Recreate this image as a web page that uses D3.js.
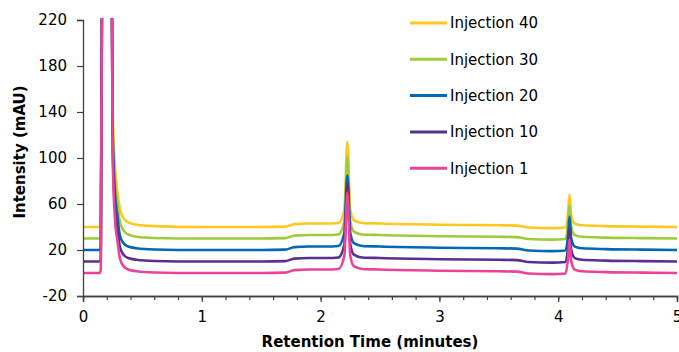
<!DOCTYPE html>
<html><head><meta charset="utf-8">
<script src="https://cdn.jsdelivr.net/npm/d3@7"></script>
<style>html,body{margin:0;padding:0;background:#fff;}svg{display:block;font-family:"DejaVu Sans",Verdana,sans-serif;}</style>
</head><body>
<svg id="chart" width="679" height="352"></svg>
<script>
// Retention time points (minutes), shared by all series
const times = [0,0.14,0.15,0.165,0.2,0.235,0.25,0.27,0.29,0.31,0.34,0.38,0.45,0.6,1.0,1.5,1.7,1.78,1.9,2.05,2.15,2.2,2.225,2.25,2.28,2.35,2.5,3.0,3.5,3.65,3.75,3.95,4.06,4.085,4.095,4.11,4.14,4.2,4.4,4.7,5.0];
const inj1  = [0,0,3,400,800,400,100,45,28,13,6,3,1.5,0.5,0,0,0.3,2.5,3,3,3.5,15,70,15,6,3.5,3,2,1.5,1.2,-0.5,-1,-0.5,15,29,10,3,1.5,0.8,0.3,0];
const inj10 = [10,10,13,400,800,400,110,56,38,23,16,13,11.5,10.5,10,10,10.3,12.5,13,13,13.5,25,78,25,16,13.5,13,12,11.5,11.2,9.5,9,9.5,25,39,20,13,11.5,10.8,10.3,10];
const inj20 = [20,20,23,400,800,400,120,68,49,33,26,23,21.5,20.5,20,20,20.3,22.5,23,23,23.5,35,85,35,26,23.5,23,22,21.5,21.2,19.5,19,19.5,35,49,30,23,21.5,20.8,20.3,20];
const inj30 = [30,30,33,400,800,400,130,80,60,45,37,33.5,31.5,30.5,30,30,30.3,32.5,33,33,33.5,45,101,45,36,33.5,33,32,31.5,31.2,29.5,29,29.5,45,59,40,33,31.5,30.8,30.3,30];
const inj40 = [40,40,43,400,800,400,140,92,70,56,48,44,42,40.8,40,40,40.3,42.5,43,43,43.5,55,114,55,46,43.5,43,42,41.5,41.2,39.5,39,39.5,55,68,50,43,41.5,40.8,40.3,40];

const seriesNames = ["Injection 40","Injection 30","Injection 20","Injection 10","Injection 1"];
const seriesValues = [inj40, inj30, inj20, inj10, inj1];
const seriesColors = ["#FFC81E","#9ECB3B","#0068B4","#583092","#EC4399"];

const xTicks = [0,1,2,3,4,5];
const xMinorTicks = d3.range(0, 5.0001, 0.2);
const yTicks = [-20,20,60,100,140,180,220];

const svg = d3.select("#chart");
const L = 83, R = 677, T = 20, B = 296;
const x = d3.scaleLinear().domain([0,5]).range([L,R]);
const y = d3.scaleLinear().domain([-20,220]).range([B,T]);

svg.append("defs").append("clipPath").attr("id","clip")
  .append("rect").attr("x",L).attr("y",T-2).attr("width",R-L+2).attr("height",B-T+2);

const line = d3.line().x(d=>x(d[0])).y(d=>y(d[1])).curve(d3.curveMonotoneX);
const g = svg.append("g").attr("clip-path","url(#clip)");
seriesValues.forEach((vals,i)=>{
  g.append("path").datum(times.map((t,j)=>[t,vals[j]]))
    .attr("d",line).attr("fill","none").attr("stroke",seriesColors[i])
    .attr("stroke-width",2.6).attr("stroke-linejoin","round");
});

const axisColor = "#404040";
const fmt = d => String(d);
// x axis
const xa = svg.append("g").attr("transform",`translate(0,${B})`);
xa.call(d3.axisBottom(x).tickValues(xMinorTicks).tickSize(4).tickFormat(""));
const xa2 = svg.append("g").attr("transform",`translate(0,${B})`)
  .call(d3.axisBottom(x).tickValues(xTicks).tickSize(6).tickPadding(9).tickFormat(fmt));
[xa,xa2].forEach(a=>{a.select(".domain").attr("stroke",axisColor).attr("stroke-width",1.3);
  a.selectAll(".tick line").attr("stroke",axisColor).attr("stroke-width",1.2);
  a.selectAll("text").attr("font-size",15).attr("fill","#000").attr("font-family","DejaVu Sans");});
// y axis
const ya = svg.append("g").attr("transform",`translate(${L},0)`)
  .call(d3.axisLeft(y).tickValues(yTicks).tickSize(6).tickPadding(10).tickFormat(fmt));
ya.select(".domain").attr("stroke",axisColor).attr("stroke-width",1.3);
ya.selectAll(".tick line").attr("stroke",axisColor).attr("stroke-width",1.2);
ya.selectAll("text").attr("font-size",15).attr("fill","#000").attr("font-family","DejaVu Sans");

// axis titles
svg.append("text").attr("x",370).attr("y",347).attr("text-anchor","middle")
  .attr("font-size",15).attr("font-weight","bold").text("Retention Time (minutes)");
svg.append("text").attr("transform","translate(25,152) rotate(-90)").attr("text-anchor","middle")
  .attr("font-size",15).attr("font-weight","bold").text("Intensity (mAU)");

// legend
const leg = svg.append("g");
seriesNames.forEach((n,i)=>{
  const yy = 23 + i*36.3;
  leg.append("line").attr("x1",410).attr("x2",447).attr("y1",yy).attr("y2",yy)
    .attr("stroke",seriesColors[i]).attr("stroke-width",3);
  leg.append("text").attr("x",450).attr("y",yy).attr("dy","0.36em")
    .attr("font-size",15).attr("fill","#000").text(n);
});
</script>
</body></html>
